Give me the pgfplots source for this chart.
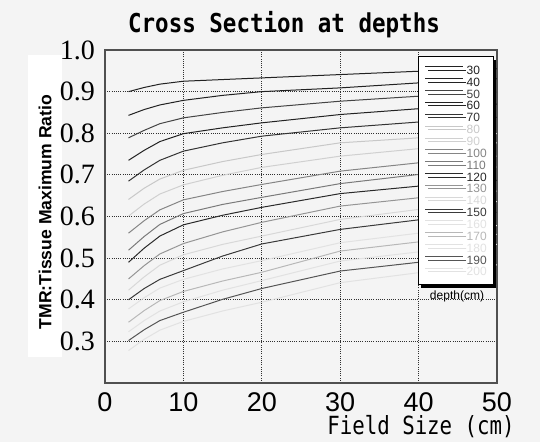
\documentclass[border=0pt]{standalone}
\usepackage{fontspec}
\setmainfont{Liberation Sans}
\newfontfamily\serifnum{Liberation Serif}
\newfontfamily\monofont{DejaVu Sans Mono}
\usepackage{pgfplots}
\usepackage{pgfplotstable}
\pgfplotsset{compat=1.18}
\usetikzlibrary{shadows}
\definecolor{bgc}{HTML}{F4F4F4}
\definecolor{framec}{HTML}{505050}
\definecolor{gridc}{HTML}{303030}
\definecolor{c30}{HTML}{222222}
\definecolor{c40}{HTML}{222222}
\definecolor{c50}{HTML}{444444}
\definecolor{c60}{HTML}{222222}
\definecolor{c70}{HTML}{333333}
\definecolor{c80}{HTML}{C8C8C8}
\definecolor{c90}{HTML}{D0D0D0}
\definecolor{c100}{HTML}{858585}
\definecolor{c110}{HTML}{7A7A7A}
\definecolor{c120}{HTML}{2A2A2A}
\definecolor{c130}{HTML}{959595}
\definecolor{c140}{HTML}{D8D8D8}
\definecolor{c150}{HTML}{3A3A3A}
\definecolor{c160}{HTML}{E2E2E2}
\definecolor{c170}{HTML}{B8B8B8}
\definecolor{c180}{HTML}{E2E2E2}
\definecolor{c190}{HTML}{555555}
\definecolor{c200}{HTML}{E2E2E2}
\pgfplotstableread{
x  d30   d40   d50   d60   d70   d80   d90   d100  d110  d120  d130  d140  d150  d160  d170  d180  d190  d200
3  0.900 0.843 0.789 0.735 0.685 0.641 0.601 0.560 0.519 0.490 0.450 0.423 0.400 0.378 0.346 0.323 0.302 0.278
5  0.910 0.857 0.807 0.759 0.712 0.668 0.630 0.590 0.552 0.524 0.482 0.455 0.427 0.405 0.374 0.350 0.328 0.305
7  0.918 0.868 0.823 0.780 0.735 0.690 0.654 0.616 0.581 0.553 0.510 0.483 0.449 0.428 0.398 0.373 0.350 0.327
10 0.925 0.879 0.837 0.799 0.757 0.711 0.676 0.640 0.607 0.580 0.535 0.508 0.470 0.449 0.420 0.395 0.370 0.348
15 0.929 0.891 0.850 0.813 0.777 0.732 0.699 0.660 0.629 0.603 0.563 0.533 0.505 0.474 0.445 0.423 0.401 0.373
20 0.933 0.900 0.861 0.825 0.793 0.749 0.718 0.677 0.646 0.622 0.586 0.553 0.534 0.494 0.466 0.446 0.427 0.394
30 0.941 0.909 0.877 0.845 0.813 0.777 0.745 0.709 0.679 0.655 0.625 0.593 0.569 0.537 0.517 0.493 0.469 0.441
40 0.949 0.921 0.889 0.859 0.827 0.789 0.763 0.729 0.701 0.673 0.645 0.617 0.592 0.560 0.539 0.515 0.490 0.465
50 0.955 0.931 0.899 0.870 0.838 0.799 0.777 0.745 0.719 0.687 0.661 0.636 0.610 0.578 0.557 0.533 0.507 0.484
}\tmr
\begin{document}
\begin{tikzpicture}
\fill[bgc] (0bp,0bp) rectangle (540bp,442bp);
\fill[white] (28bp,85bp) rectangle (62bp,387bp);
\begin{axis}[
  at={(105bp,59bp)}, anchor=south west,
  scale only axis, width=392bp, height=333bp,
  xmin=0, xmax=50, ymin=0.2, ymax=1.0,
  axis background/.style={fill=bgc},
  axis line style={draw=framec, line width=1.6bp},
  xtick={0,10,20,30,40,50},
  xticklabels={0,10,20,30,40,50},
  ytick={0.3,0.4,0.5,0.6,0.7,0.8,0.9,1.0},
  yticklabels={0.3,0.4,0.5,0.6,0.7,0.8,0.9,1.0},
  major tick length=0pt,
  grid=major,
  major grid style={draw=gridc, line width=0.8bp, dash pattern=on 1bp off 1.2bp},
  yticklabel style={font=\serifnum\fontsize{28bp}{30bp}\selectfont, anchor=east, inner sep=0pt, xshift=-10bp},
  xticklabel style={font=\fontsize{27bp}{28bp}\selectfont, anchor=north, inner sep=0pt, yshift=-9bp},
  every axis plot/.append style={line width=1bp, no markers},
  legend style={at={(rel axis cs:0.798,0.982)}, anchor=north west,
    fill=white, draw=black, line width=0.8bp,
    inner xsep=6.5bp, inner ysep=9bp,
    column sep=3bp, row sep=2.85bp,
    font=\fontsize{12bp}{12bp}\selectfont,
    nodes={inner sep=0pt, text height=9bp, text depth=0pt},
    drop shadow={shadow xshift=3bp, shadow yshift=-3.5bp, fill=black, opacity=1}},
  legend cell align=left,
  legend image code/.code={\draw[#1] (0bp,3bp) -- (38bp,3bp);},
]
\addplot[c30] table[x=x,y=d30]{\tmr};\addlegendentry{\textcolor{c30}{30}}
\addplot[c40] table[x=x,y=d40]{\tmr};\addlegendentry{\textcolor{c40}{40}}
\addplot[c50] table[x=x,y=d50]{\tmr};\addlegendentry{\textcolor{c50}{50}}
\addplot[c60] table[x=x,y=d60]{\tmr};\addlegendentry{\textcolor{c60}{60}}
\addplot[c70] table[x=x,y=d70]{\tmr};\addlegendentry{\textcolor{c70}{70}}
\addplot[c80] table[x=x,y=d80]{\tmr};\addlegendentry{\textcolor{c80}{80}}
\addplot[c90] table[x=x,y=d90]{\tmr};\addlegendentry{\textcolor{c90}{90}}
\addplot[c100] table[x=x,y=d100]{\tmr};\addlegendentry{\textcolor{c100}{100}}
\addplot[c110] table[x=x,y=d110]{\tmr};\addlegendentry{\textcolor{c110}{110}}
\addplot[c120] table[x=x,y=d120]{\tmr};\addlegendentry{\textcolor{c120}{120}}
\addplot[c130] table[x=x,y=d130]{\tmr};\addlegendentry{\textcolor{c130}{130}}
\addplot[c140] table[x=x,y=d140]{\tmr};\addlegendentry{\textcolor{c140}{140}}
\addplot[c150] table[x=x,y=d150]{\tmr};\addlegendentry{\textcolor{c150}{150}}
\addplot[c160] table[x=x,y=d160]{\tmr};\addlegendentry{\textcolor{c160}{160}}
\addplot[c170] table[x=x,y=d170]{\tmr};\addlegendentry{\textcolor{c170}{170}}
\addplot[c180] table[x=x,y=d180]{\tmr};\addlegendentry{\textcolor{c180}{180}}
\addplot[c190] table[x=x,y=d190]{\tmr};\addlegendentry{\textcolor{c190}{190}}
\addplot[c200] table[x=x,y=d200]{\tmr};\addlegendentry{\textcolor{c200}{200}}
\end{axis}
\node at (284bp,417bp) {\scalebox{0.866}[1]{\monofont\bfseries\fontsize{26bp}{28bp}\selectfont Cross Section at depths}};
\node at (421bp,15bp) {\scalebox{0.83}[1]{\monofont\fontsize{25bp}{27bp}\selectfont Field Size (cm)}};
\node[rotate=90] at (45bp,230bp) {\bfseries\fontsize{17.6bp}{18bp}\selectfont TMR:Tissue Maximum Ratio};
\node at (457bp,146bp) {\fontsize{12bp}{12bp}\selectfont depth(cm)};
\end{tikzpicture}
\end{document}
